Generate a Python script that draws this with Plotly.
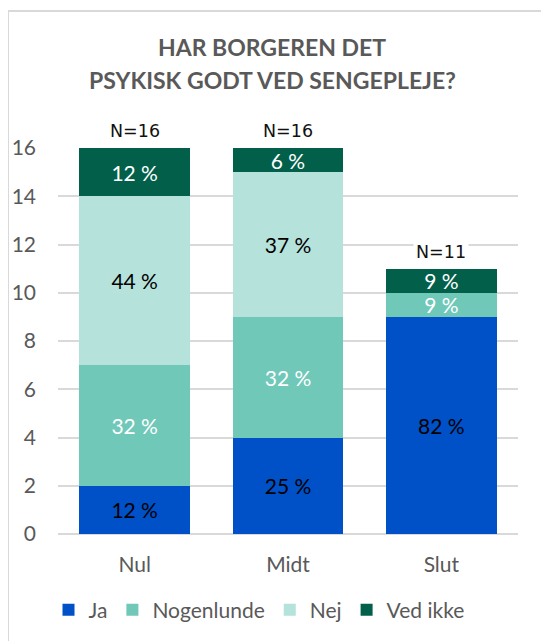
import plotly.graph_objects as go

categories = ["Nul", "Midt", "Slut"]
series_names = ["Ja", "Nogenlunde", "Nej", "Ved ikke"]
ja = [2, 4, 9]
nogenlunde = [5, 5, 1]
nej = [7, 6, 0]
ved_ikke = [2, 1, 1]
ja_labels = ["12 %", "25 %", "82 %"]
nogenlunde_labels = ["32 %", "32 %", "9 %"]
nej_labels = ["44 %", "37 %", ""]
ved_ikke_labels = ["12 %", "6 %", "9 %"]
n_labels = ["N=16", "N=16", "N=11"]
y_ticks = [0, 2, 4, 6, 8, 10, 12, 14, 16]
title_lines = ["HAR BORGEREN DET", "PSYKISK GODT VED SENGEPLEJE?"]

colors = ["#0050C8", "#6FC8B8", "#B5E2DB", "#02604A"]
label_colors = ["black", "white", "black", "white"]
values = [ja, nogenlunde, nej, ved_ikke]
labels = [ja_labels, nogenlunde_labels, nej_labels, ved_ikke_labels]

FONT = "Lato, 'Open Sans', sans-serif"

# plot area in figure coords: x 50..510, y 140..526 (page has 8px body margin)
PL, PR, PT, PB = 50, 510, 140, 526
PW, PH = PR - PL, PB - PT


def px(xs):
    return (xs - 8 - PL) / PW


def py(ys):
    return (PB - (ys - 8)) / PH


fig = go.Figure()
for name, vals, txt, col, lc in zip(series_names, values, labels, colors, label_colors):
    fig.add_trace(go.Bar(
        x=categories, y=vals, name=name, text=txt,
        textposition="inside", insidetextanchor="middle", textangle=0,
        constraintext="none",
        textfont=dict(color=lc, size=21, family=FONT),
        marker=dict(color=col, line=dict(width=0)),
        hoverinfo="skip",
    ))

totals = [a + b + c + d for a, b, c, d in zip(ja, nogenlunde, nej, ved_ikke)]
for cat, tot, lab in zip(categories, totals, n_labels):
    fig.add_annotation(x=cat, y=tot, text=lab, showarrow=False, yshift=17,
                       font=dict(size=17.5, color="#111111", family="DejaVu Sans"),
                       bgcolor="white", borderpad=2)

# title lines
for line, ys in zip(title_lines, [47, 80]):
    fig.add_annotation(x=px(272), y=py(ys), xref="paper", yref="paper",
                       xanchor="center", yanchor="middle",
                       text="<b>%s</b>" % line, showarrow=False,
                       font=dict(size=23, color="#595959", family=FONT))

# outer frame (left and top edges visible)
fig.add_shape(type="rect", xref="paper", yref="paper",
              x0=px(8), x1=1.3, y0=-0.5, y1=py(11),
              line=dict(color="#D9D9D9", width=2), layer="below")

fig.update_layout(
    barmode="stack", bargap=0.28,
    width=541, height=633,
    margin=dict(l=PL, r=541 - PR, t=PT, b=633 - PB, autoexpand=False),
    paper_bgcolor="white", plot_bgcolor="white",
    font=dict(family=FONT, color="#595959", size=20),
    showlegend=True,
    legend=dict(orientation="h", x=px(259), xanchor="center", y=py(610), yanchor="middle",
                font=dict(size=21, color="#595959", family=FONT),
                itemwidth=30, traceorder="normal", tracegroupgap=0),
    xaxis=dict(showline=False, ticks="", tickfont=dict(size=21, color="#595959"),
               ticklabelstandoff=16),
    yaxis=dict(range=[0, 16], tickvals=y_ticks, showgrid=True, gridcolor="#D9D9D9",
               gridwidth=1.5, zeroline=True, zerolinecolor="#D9D9D9", zerolinewidth=1.5,
               tickfont=dict(size=21, color="#595959"), ticklabelstandoff=21),
)

fig.write_html("out.html")
